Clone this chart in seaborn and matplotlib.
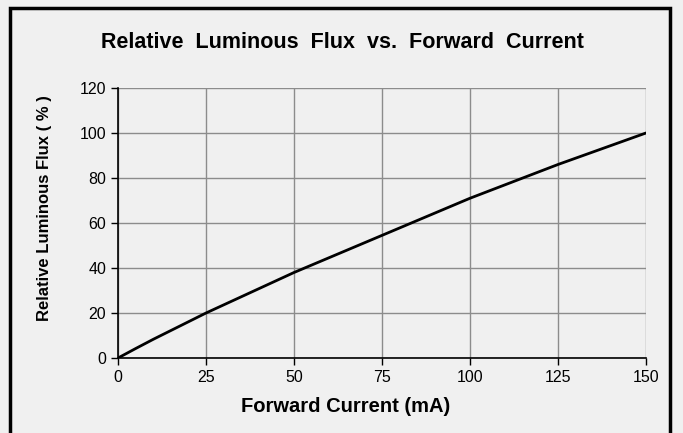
import numpy as np
import pandas as pd
import seaborn as sns
import matplotlib.pyplot as plt
from matplotlib.patches import Rectangle

# Curve values
current_ma = [0, 5, 10, 25, 50, 75, 100, 125, 150]
relative_flux = [0, 4.2, 8.3, 20, 38, 54.5, 71, 86, 100]

x_ticks = [0, 25, 50, 75, 100, 125, 150]
y_ticks = [0, 20, 40, 60, 80, 100, 120]

df = pd.DataFrame({'current': current_ma, 'flux': relative_flux})

sns.set_theme(style='white')
plt.rcParams['font.family'] = ['Liberation Sans', 'DejaVu Sans']
plt.rcParams['text.color'] = 'black'

bg = '#f0f0f0'
fig = plt.figure(figsize=(6.83, 4.33), dpi=100, facecolor=bg)
ax = fig.add_axes([0.1728, 0.1732, 0.773, 0.6236])
ax.set_facecolor(bg)

# outer frame
fig.patches.append(Rectangle((10 / 683, -0.05), 660 / 683, 1 - 8 / 433 + 0.05,
                             transform=fig.transFigure, fill=False,
                             edgecolor='black', linewidth=2.5))

sns.lineplot(data=df, x='current', y='flux', color='black', linewidth=2, ax=ax)

ax.set_xlim(0, 150)
ax.set_ylim(0, 120)
ax.set_xticks(x_ticks)
ax.set_yticks(y_ticks)
ax.grid(True, color='#8c8c8c', linewidth=1)
for side in ['top', 'right']:
    ax.spines[side].set_visible(False)
for side in ['left', 'bottom']:
    ax.spines[side].set_color('black')
    ax.spines[side].set_linewidth(1.2)
ax.tick_params(axis='both', which='both', direction='out', length=5, width=1,
               color='black', labelsize=11.5, labelcolor='black', left=True, bottom=True)

ax.set_xlabel('Forward Current (mA)', fontsize=14.5, fontweight='bold', color='black')
ax.set_ylabel('Relative Luminous Flux ( % )', fontsize=12, fontweight='bold', color='black')
ax.xaxis.set_label_coords((346 - 118) / 528, -0.145)
ax.yaxis.set_label_coords(-0.125, (358 - 208) / 270)
fig.text(342 / 683, 1 - 43 / 433, 'Relative  Luminous  Flux  vs.  Forward  Current',
         ha='center', va='center', fontsize=15.5, fontweight='bold')

fig.savefig('out.png', dpi=100, facecolor=bg)
